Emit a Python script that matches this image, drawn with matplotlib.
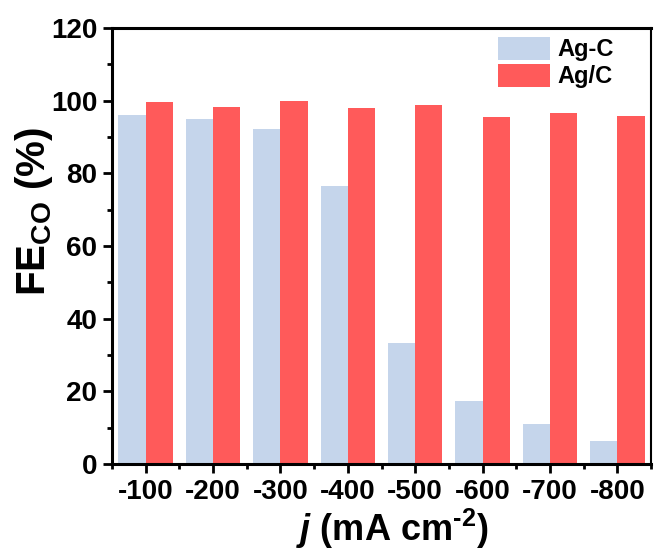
import numpy as np
import matplotlib.pyplot as plt
from matplotlib.ticker import MultipleLocator, FixedLocator

plt.rcParams['font.family'] = ['Liberation Sans', 'DejaVu Sans']
plt.rcParams['font.weight'] = 'bold'
plt.rcParams['mathtext.fontset'] = 'custom'
plt.rcParams['mathtext.rm'] = 'Liberation Sans:bold'
plt.rcParams['mathtext.bf'] = 'Liberation Sans:bold'
plt.rcParams['mathtext.it'] = 'Liberation Sans:bold:italic'

# Данные
categories = ['-100', '-200', '-300', '-400', '-500', '-600', '-700', '-800']
ag_c = [96.1, 95.0, 92.2, 76.6, 33.2, 17.4, 10.9, 6.3]
ag_on_c = [99.6, 98.3, 99.9, 98.0, 98.8, 95.4, 96.7, 95.8]

fig = plt.figure(figsize=(6.54, 5.54), dpi=100)
ax = fig.add_axes([0.1713, 0.1625, 0.8241, 0.787])

x = np.arange(len(categories))
w = 0.405
ax.bar(x - w / 2, ag_c, width=w, color='#c5d5eb', label='Ag-C')
ax.bar(x + w / 2, ag_on_c, width=w, color='#ff5a5a', label='Ag/C')

ax.set_xlim(-0.5, 7.5)
ax.set_ylim(0, 120)
ax.set_xticks(x)
ax.set_xticklabels(categories)
ax.xaxis.set_minor_locator(FixedLocator(np.arange(-0.5, 8, 1)))
ax.yaxis.set_major_locator(MultipleLocator(20))
ax.yaxis.set_minor_locator(MultipleLocator(10))

for s in ['left', 'bottom', 'top']:
    ax.spines[s].set_linewidth(2.2)
ax.spines['right'].set_linewidth(1.5)
ax.tick_params(which='major', direction='out', length=6.5, width=2.0,
               labelsize=20, pad=4)
ax.tick_params(which='minor', direction='out', length=3.5, width=2.0)
for lab in ax.get_xticklabels() + ax.get_yticklabels():
    lab.set_fontweight('bold')

ax.set_xlabel(r'$j$ (mA cm$^{\text{-}2}$)', fontsize=26, fontweight='bold')
ax.set_ylabel(r'FE$_{\mathrm{CO}}$ (%)', fontsize=29, fontweight='bold')
ax.xaxis.set_label_coords(0.52, -0.098)
ax.yaxis.set_label_coords(-0.105, 0.58)

ax.legend(loc='upper left', bbox_to_anchor=(0.716, 0.979), frameon=False,
          handlelength=2.2, handleheight=1.1,
          handletextpad=0.3, labelspacing=0.1, borderpad=0,
          borderaxespad=0, prop={'weight': 'bold', 'size': 17})

fig.savefig('out.png', dpi=100)
